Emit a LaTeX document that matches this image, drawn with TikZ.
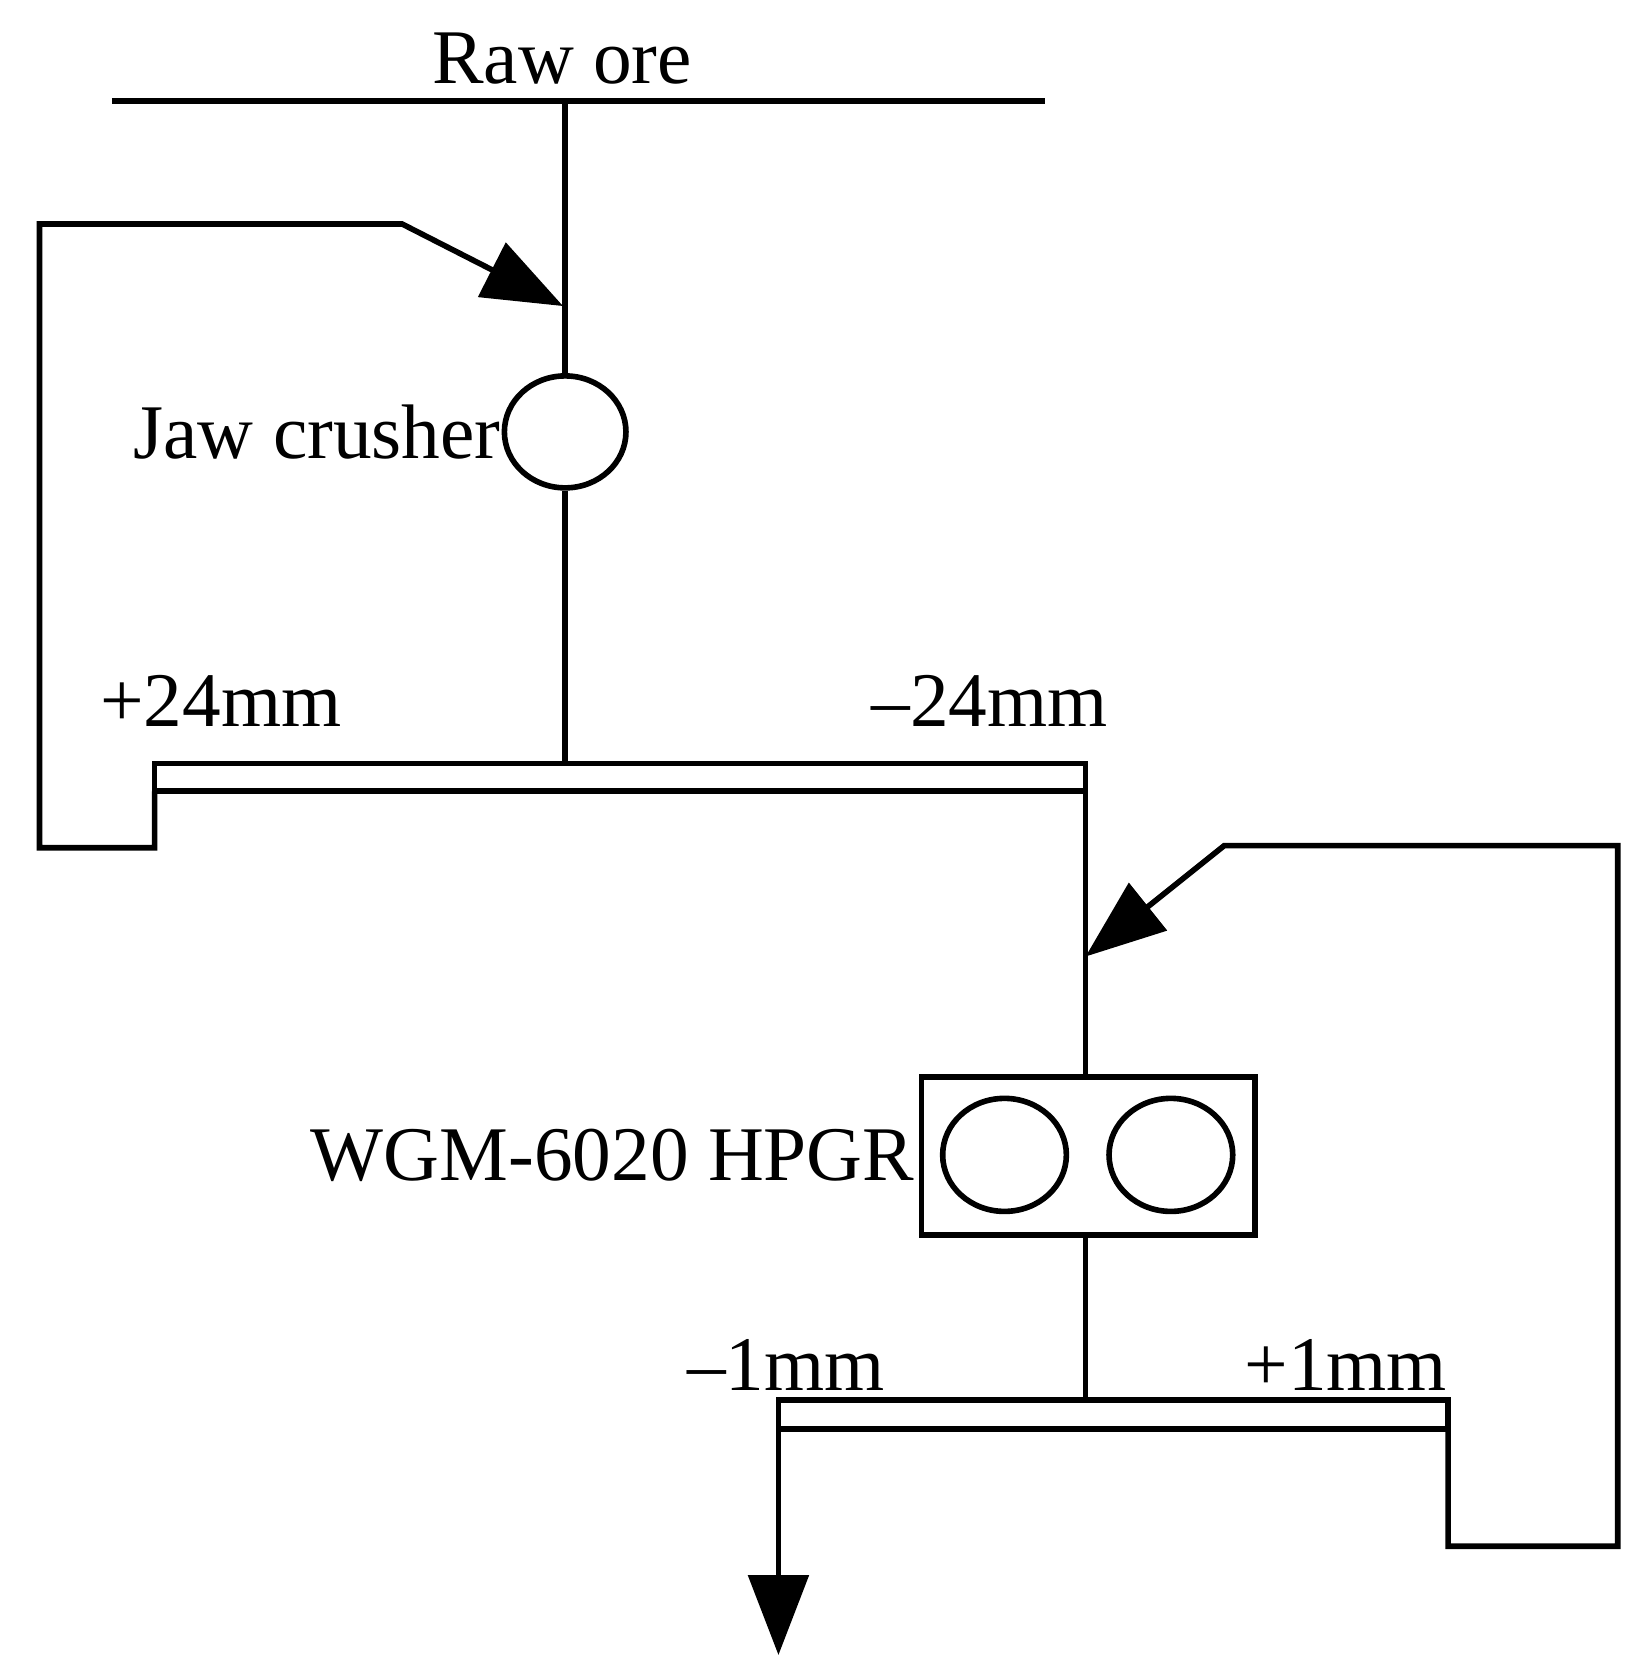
\documentclass[tikz,border=0pt]{standalone}
\usepackage{fontspec}
\setmainfont{Liberation Serif}
\usetikzlibrary{arrows.meta,shapes.geometric}
\begin{document}
\begin{tikzpicture}[x=0.032cm,y=-0.032cm,line width=4.8pt,
  lbl/.style={font=\fontsize{66}{72}\selectfont,inner sep=0pt},
  arr/.style={-{Triangle[length=2.4cm,width=1.8cm]}},
  ell/.style={draw,ellipse,inner sep=0pt}]
\useasboundingbox (0,0) rectangle (1546,1567);
% raw ore
\coordinate (r1) at (105,95); \coordinate (r2) at (980,95);
\draw (r1) -- (r2);
\node[lbl] (raw) at (527,55) {Raw ore};
\coordinate (rf) at (530,95);
\node[ell,minimum width=114*0.032cm,minimum height=105*0.032cm] (jaw) at (530,405) {};
\node[lbl,anchor=east] (jawl) at (472,405) {Jaw crusher};
\coordinate (jin) at (528,287);
\draw (rf) -- (jaw.north);
% screen 1
\coordinate (s1a) at (145,716); \coordinate (s1b) at (1018,742);
\draw (s1a) rectangle (s1b);
\coordinate (s1c) at (530,716);
\draw (jaw.south) -- (s1c);
\node[lbl] (p24) at (207,657) {+24mm};
\node[lbl] (m24) at (928,657) {\textendash24mm};
\draw[arr] (145,742) -- (145,795) -- (37,795) -- (37,210) -- (377,210) -- (jin);
% HPGR
\node[draw,minimum width=313*0.032cm,minimum height=148*0.032cm,inner sep=0pt] (hp) at (1020.5,1084) {};
\node[ell,minimum width=116*0.032cm,minimum height=106*0.032cm] (c1) at (942,1083) {};
\node[ell,minimum width=116*0.032cm,minimum height=106*0.032cm] (c2) at (1098,1083) {};
\node[lbl,anchor=east] (hpl) at (860,1083) {WGM-6020 HPGR};
\coordinate (hin) at (1018,897);
\draw (1018,742) -- (1018,1010);
% screen 2
\coordinate (s2a) at (730,1313); \coordinate (s2b) at (1358,1340);
\draw (s2a) rectangle (s2b);
\draw (1018,1158) -- (1018,1313);
\node[lbl] (m1) at (737,1280) {\textendash1mm};
\node[lbl] (p1) at (1262,1280) {+1mm};
\draw[arr] (1358,1340) -- (1358,1450) -- (1517,1450) -- (1517,793) -- (1148,793) -- (hin);
\coordinate (out) at (730,1552);
\draw[arr] (730,1340) -- (out);
\end{tikzpicture}
\end{document}
